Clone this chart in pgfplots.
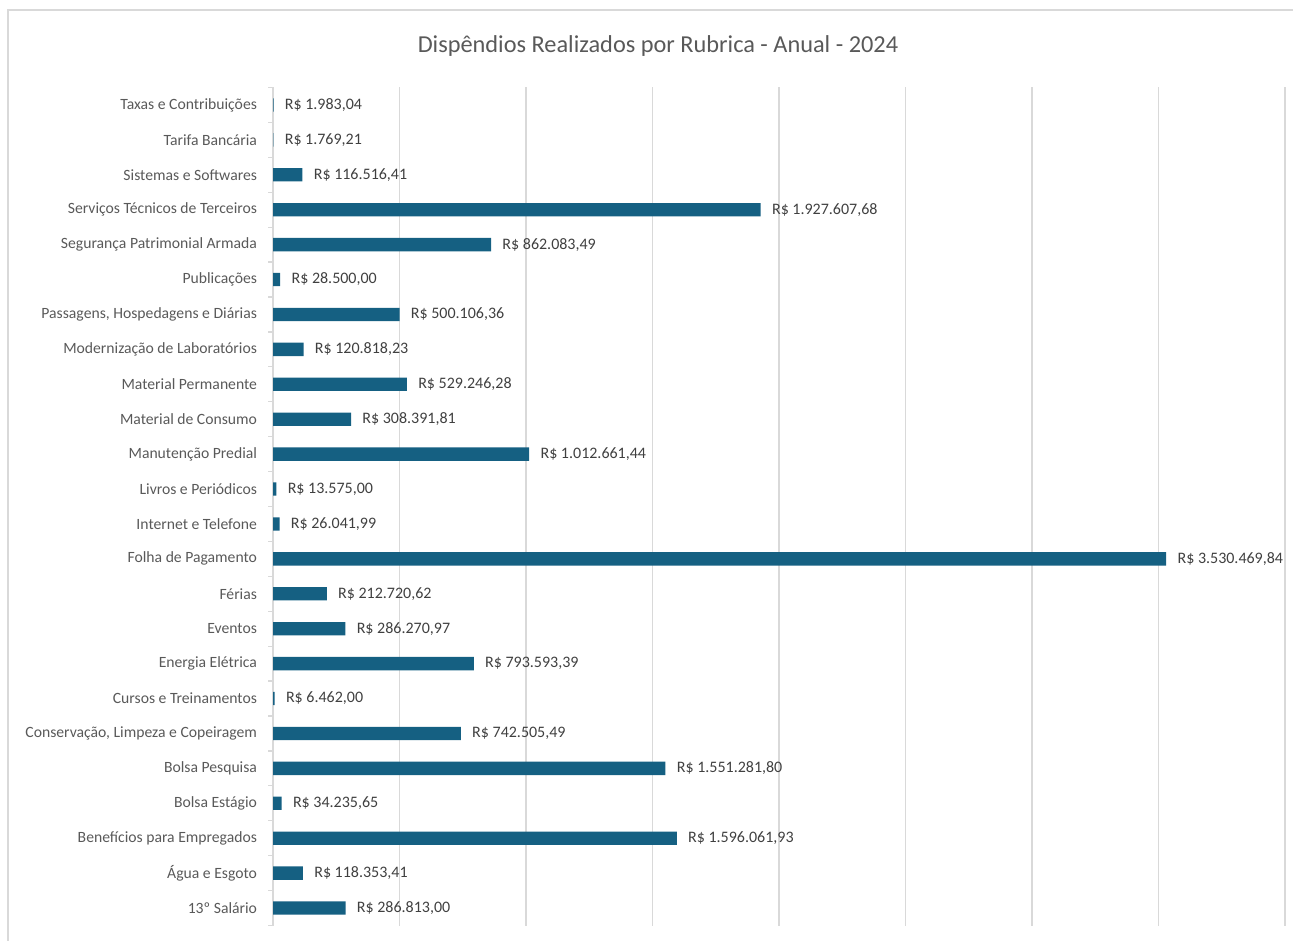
\documentclass[border=0pt]{standalone}
\usepackage{fontspec}
\setmainfont{Carlito}
\usepackage{pgfplots}
\pgfplotsset{compat=1.18}
\definecolor{barblue}{HTML}{156082}
\definecolor{txtgray}{HTML}{595959}
\definecolor{lblgray}{HTML}{404040}
\definecolor{gridgray}{HTML}{D9D9D9}
\begin{document}
\begin{tikzpicture}
% 1 px = 0.75 pt
\path[use as bounding box] (0,0) rectangle (969.75pt,705pt);
\draw[gridgray, line width=1pt] (6pt,-5pt) -- (6pt,697.5pt) -- (975pt,697.5pt);
\node[text=txtgray, font=\fontsize{18.25}{22}\selectfont] at (493.5pt,670.5pt) {Dispêndios Realizados por Rubrica - Anual - 2024};
\begin{axis}[
  at={(204.75pt,10.875pt)}, anchor=south west,
  scale only axis, width=759pt, height=628.5pt,
  xbar, bar width=10pt,
  xmin=0, xmax=4000000, ymin=-0.5, ymax=23.5,
  scaled x ticks=false,
  xtick={0,500000,1000000,1500000,2000000,2500000,3000000,3500000,4000000},
  xticklabels={}, xtick style={draw=none},
  xmajorgrids, major grid style={gridgray, line width=0.9pt},
  axis line style={draw=none},
  ytick={-0.5,0.5,...,23.5}, y tick label as interval, ytick pos=left,
  tick align=outside, major tick length=3.5pt,
  ytick style={draw=gridgray, line width=0.9pt},
  yticklabels={13º Salário, Água e Esgoto, Benefícios para Empregados, Bolsa Estágio,
    Bolsa Pesquisa, {Conservação, Limpeza e Copeiragem}, Cursos e Treinamentos,
    Energia Elétrica, Eventos, Férias, Folha de Pagamento, Internet e Telefone,
    Livros e Periódicos, Manutenção Predial, Material de Consumo, Material Permanente,
    Modernização de Laboratórios, {Passagens, Hospedagens e Diárias}, Publicações,
    Segurança Patrimonial Armada, Serviços Técnicos de Terceiros, Sistemas e Softwares,
    Tarifa Bancária, Taxas e Contribuições},
  yticklabel style={text=txtgray, font=\fontsize{11.75}{14}\selectfont, xshift=-5pt},
  point meta=explicit symbolic,
  nodes near coords,
  every node near coord/.append style={anchor=west, xshift=5pt,
    text=lblgray, font=\fontsize{12}{14}\selectfont},
  clip=false,
]
\addplot[fill=barblue, draw=none] coordinates {
  (286813.00,0) [R\$ 286.813,00]
  (118353.41,1) [R\$ 118.353,41]
  (1596061.93,2) [R\$ 1.596.061,93]
  (34235.65,3) [R\$ 34.235,65]
  (1551281.80,4) [R\$ 1.551.281,80]
  (742505.49,5) [R\$ 742.505,49]
  (6462.00,6) [R\$ 6.462,00]
  (793593.39,7) [R\$ 793.593,39]
  (286270.97,8) [R\$ 286.270,97]
  (212720.62,9) [R\$ 212.720,62]
  (3530469.84,10) [R\$ 3.530.469,84]
  (26041.99,11) [R\$ 26.041,99]
  (13575.00,12) [R\$ 13.575,00]
  (1012661.44,13) [R\$ 1.012.661,44]
  (308391.81,14) [R\$ 308.391,81]
  (529246.28,15) [R\$ 529.246,28]
  (120818.23,16) [R\$ 120.818,23]
  (500106.36,17) [R\$ 500.106,36]
  (28500.00,18) [R\$ 28.500,00]
  (862083.49,19) [R\$ 862.083,49]
  (1927607.68,20) [R\$ 1.927.607,68]
  (116516.41,21) [R\$ 116.516,41]
  (1769.21,22) [R\$ 1.769,21]
  (1983.04,23) [R\$ 1.983,04]
};
\end{axis}
\end{tikzpicture}
\end{document}
